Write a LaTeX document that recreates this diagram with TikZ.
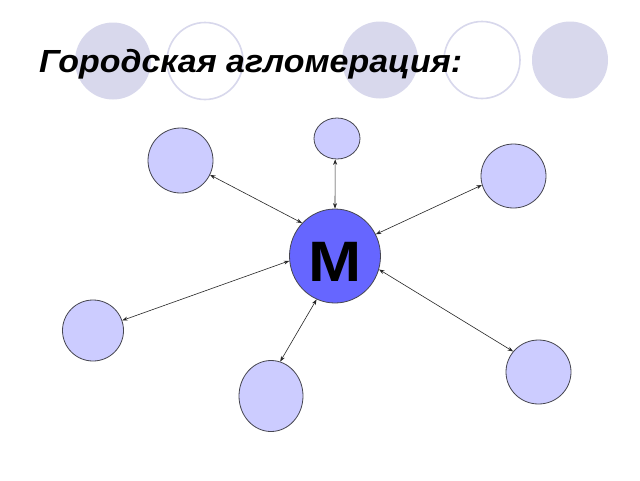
\documentclass[tikz,border=0pt]{standalone}
\usepackage{fontspec}
\setmainfont{Liberation Sans}
\usetikzlibrary{shapes.geometric,arrows.meta}
\definecolor{deco}{RGB}{216,216,236}
\definecolor{city}{RGB}{204,204,255}
\definecolor{metro}{RGB}{102,102,255}
\definecolor{rim}{RGB}{70,70,80}
\tikzset{
  decofill/.style={ellipse,fill=deco,draw=none,minimum width=76pt,minimum height=77pt,inner sep=0pt},
  decoring/.style={ellipse,fill=white,draw=deco,line width=1.6pt,minimum width=76pt,minimum height=77pt,inner sep=0pt},
  citynode/.style={ellipse,fill=city,draw=rim,line width=0.8pt,inner sep=0pt},
  link/.style={line width=0.6pt,draw=black!85,{Stealth[length=5.5pt,width=4pt]}-{Stealth[length=5.5pt,width=4pt]}}
}
\begin{document}
\begin{tikzpicture}[x=1pt,y=-1pt]
\useasboundingbox (0,0) rectangle (640,480);
\fill[white] (0,0) rectangle (640,480);
% decorative circles
\node[decofill] (d1) at (113,61) {};
\node[decoring] (d2) at (205,61) {};
\node[decofill] (d3) at (380,60) {};
\node[decoring] (d4) at (482,60) {};
\node[decofill] (d5) at (570,60) {};
% title
\node[anchor=base west,inner sep=0pt,xscale=1.06,font=\fontsize{32}{36}\selectfont\bfseries\itshape] (title) at (39,72) {Городская агломерация:};
% nodes
\node[citynode,minimum width=46pt,minimum height=41pt] (top) at (337,138.5) {};
\node[citynode,minimum width=65pt,minimum height=65pt] (tl) at (180.5,160.5) {};
\node[citynode,minimum width=65pt,minimum height=64pt] (tr) at (513.5,176) {};
\node[citynode,minimum width=61pt,minimum height=61pt] (lf) at (93,330.5) {};
\node[citynode,minimum width=64pt,minimum height=71pt] (bt) at (271,396) {};
\node[citynode,minimum width=65pt,minimum height=64pt] (br) at (538.5,372) {};
\node[citynode,fill=metro,minimum width=91pt,minimum height=94pt] (M) at (335,256) {};
\node[font=\fontsize{57}{60}\selectfont\bfseries,xscale=1.12,inner sep=0pt,anchor=base] (Mlabel) at (335.5,281.5) {M};
% links
\draw[link] (M.90) -- (top.-95);
\draw[link] (M.135) -- (tl.-26);
\draw[link] (M.28) -- (tr.-164.5);
\draw[link] (M.186) -- (lf.19);
\draw[link] (M.-113.5) -- (bt.75.6);
\draw[link] (M.-17) -- (br.141.3);
\end{tikzpicture}
\end{document}
